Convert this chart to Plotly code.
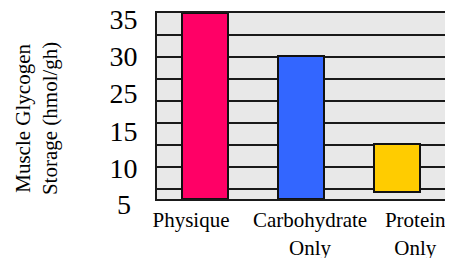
import plotly.graph_objects as go

categories = ["Physique", "Carbohydrate<br>Only", "Protein<br>Only"]
bar_top = [35.8, 30.0, 18.3]
bar_bottom = [10.9, 10.9, 11.8]
colors = ["#FF0066", "#3366FF", "#FFCC00"]
tick_values = [35, 30, 25, 20, 15]
tick_labels = ["35", "30", "25", "15", "10"]
low_label = "5"
y_title = "Muscle Glycogen<br>Storage (hmol/gh)"

label_offsets = [-0.146, 0.094, 0.19]
xs = list(range(len(categories)))

fig = go.Figure()
fig.add_trace(go.Bar(
    x=xs,
    y=[t - b for t, b in zip(bar_top, bar_bottom)],
    base=bar_bottom,
    width=0.48,
    marker=dict(color=colors, line=dict(color="#111111", width=2)),
    showlegend=False,
))
fig.add_trace(go.Scatter(x=[None], y=[None], yaxis="y2", showlegend=False, hoverinfo="skip"))

serif = "Liberation Serif, Times New Roman, serif"

# page body has an 8px default margin, so the figure is sized to fit the window
fig.update_layout(
    width=445, height=250,
    margin=dict(l=149, r=8, t=5, b=59, autoexpand=False),
    paper_bgcolor="white",
    plot_bgcolor="#E8E8E8",
    bargap=0,
    xaxis=dict(
        range=[-0.5, 2.5],
        tickmode="array",
        tickvals=[x + o for x, o in zip(xs, label_offsets)],
        ticktext=categories,
        tickfont=dict(family=serif, size=21, color="black"),
        showgrid=False, zeroline=False, automargin=False,
        showline=True, mirror=True, linecolor="#1a1a1a", linewidth=2,
        ticks="", ticklabelstandoff=1, ticklabeloverflow="allow",
    ),
    yaxis=dict(
        range=[10.89, 35.81],
        tickmode="array",
        tickvals=tick_values,
        ticktext=tick_labels,
        tickfont=dict(family=serif, size=28, color="black"),
        showgrid=False, zeroline=False, automargin=False,
        showline=True, mirror=True, linecolor="#1a1a1a", linewidth=2,
        ticks="", ticklabelstandoff=12, ticklabeloverflow="allow",
    ),
    yaxis2=dict(
        overlaying="y", side="left",
        range=[-0.4545, 8], tick0=0, dtick=1,
        showticklabels=False, showgrid=True, automargin=False,
        gridcolor="#1a1a1a", gridwidth=2, zeroline=False, showline=False,
    ),
    annotations=[
        dict(
            text=low_label, xref="paper", yref="paper", x=0, y=-0.032,
            xanchor="right", yanchor="middle", xshift=-24, showarrow=False,
            font=dict(family=serif, size=28, color="black"),
        ),
        dict(
            text=y_title, xref="paper", yref="paper", x=-0.42, y=0.43,
            xanchor="center", yanchor="middle", textangle=-90, showarrow=False,
            font=dict(family=serif, size=21, color="black"),
        ),
    ],
)

fig.write_html("out.html")
